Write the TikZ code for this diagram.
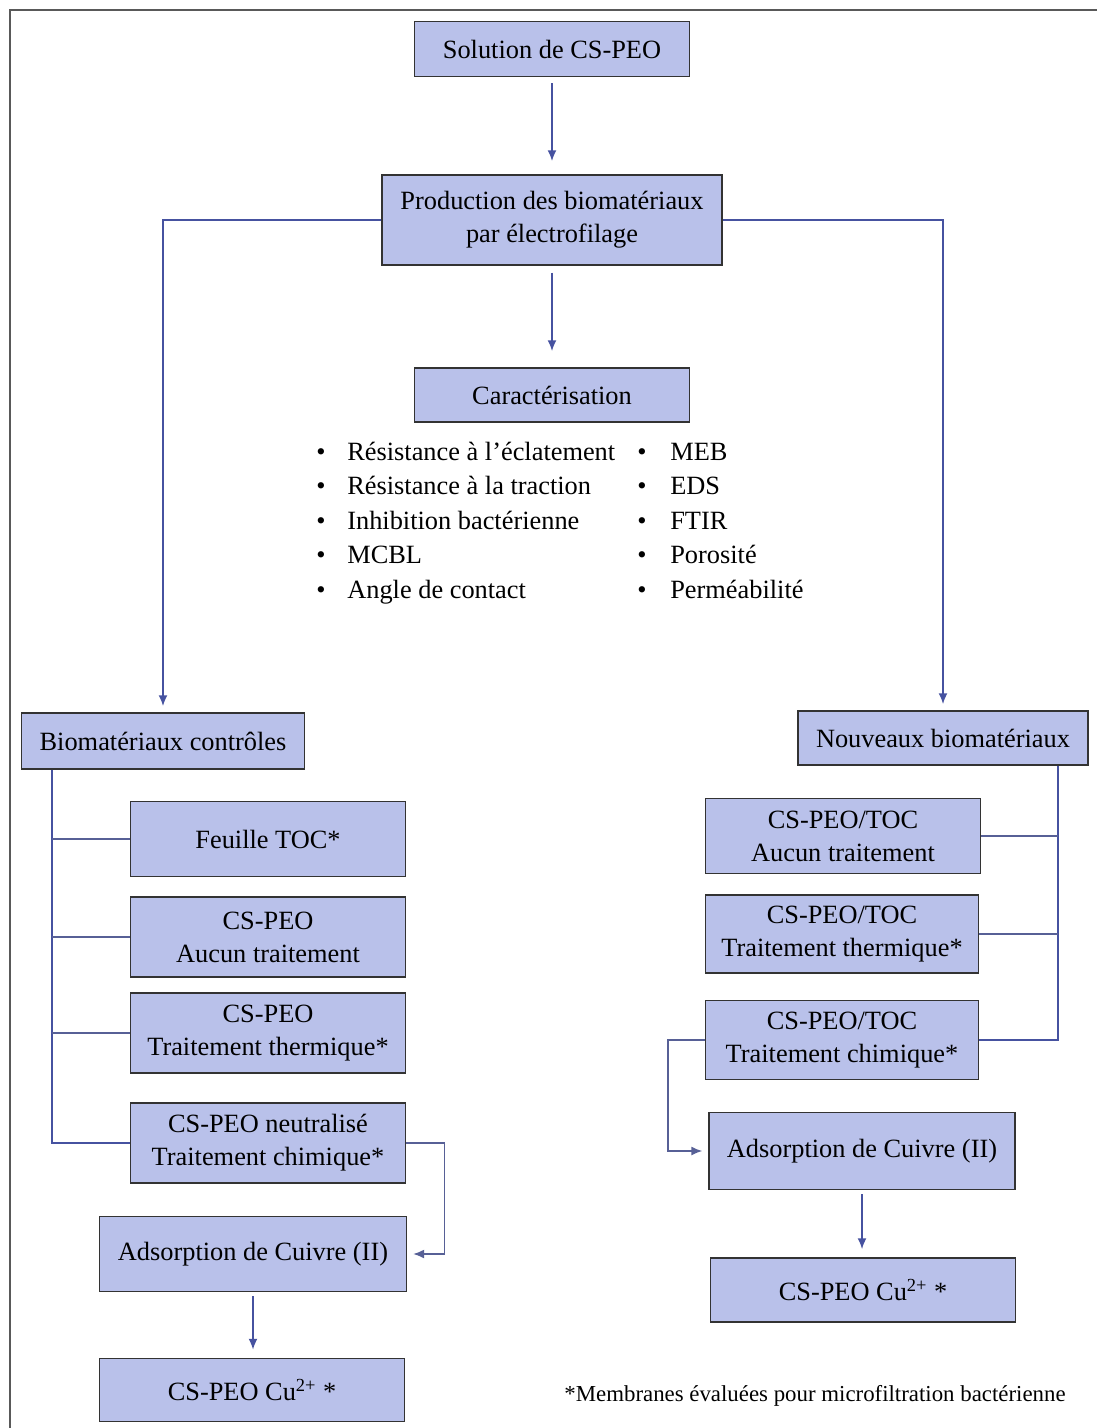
\documentclass[tikz,border=0pt]{standalone}
\usepackage{fontspec}
\setmainfont{Liberation Serif}
\usetikzlibrary{arrows.meta}
\definecolor{bleuboite}{RGB}{185,193,234}
\definecolor{bleutrait}{RGB}{70,82,160}

\begin{document}
\begin{tikzpicture}[x=0.2mm, y=-0.2mm, >={Latex[length=2.2mm,width=1.8mm]},
    boite/.style = {draw=black!80, fill=bleuboite, line width=0.8pt, align=center, inner sep=1pt, font=\fontsize{15}{18.7}\selectfont},
    trait/.style = {draw=bleutrait, line width=1.1pt},
    branche/.style = {draw=bleutrait!70!gray, line width=0.8pt},
    item/.style = {anchor=base west, inner sep=0pt, font=\fontsize{15}{18}\selectfont}]
    \useasboundingbox (0,0) rectangle (1097,1428);
    \draw[black!65, line width=1.2pt] (10,1428) -- (10,10) -- (1097,10);

    % Boites du schema
    \node[boite, minimum width=55mm, minimum height=11mm] (0) at (552, 49) {Solution de CS-PEO};
    \node[boite, minimum width=68mm, minimum height=18mm] (1) at (552, 220) {Production des biomatériaux\\par électrofilage};
    \node[boite, minimum width=55mm, minimum height=10.8mm] (2) at (552, 395) {Caractérisation};
    \node[boite, minimum width=56.6mm, minimum height=11.2mm] (3) at (163, 741) {Biomatériaux contrôles};
    \node[boite, minimum width=58mm, minimum height=10.8mm] (4) at (943, 738) {Nouveaux biomatériaux};

    \node[boite, minimum width=55mm, minimum height=15mm] (5) at (268, 839) {Feuille TOC*};
    \node[boite, minimum width=55mm, minimum height=16mm] (6) at (268, 937) {CS-PEO\\Aucun traitement};
    \node[boite, minimum width=55mm, minimum height=16mm] (7) at (268, 1033) {CS-PEO\\Traitement thermique*};
    \node[boite, minimum width=55mm, minimum height=16mm] (8) at (268, 1143) {CS-PEO neutralisé\\Traitement chimique*};
    \node[boite, minimum width=61.4mm, minimum height=15mm] (9) at (253, 1254) {Adsorption de Cuivre (II)};
    \node[boite, minimum width=61mm, minimum height=12.6mm] (10) at (252, 1390) {CS-PEO Cu\textsuperscript{2+} *};

    \node[boite, minimum width=55mm, minimum height=15mm] (11) at (843, 836) {CS-PEO/TOC\\Aucun traitement};
    \node[boite, minimum width=54.6mm, minimum height=15.6mm] (12) at (842, 934) {CS-PEO/TOC\\Traitement thermique*};
    \node[boite, minimum width=54.6mm, minimum height=15.8mm] (13) at (842, 1040) {CS-PEO/TOC\\Traitement chimique*};
    \node[boite, minimum width=61.2mm, minimum height=15.4mm] (14) at (862, 1151) {Adsorption de Cuivre (II)};
    \node[boite, minimum width=61mm, minimum height=12.8mm] (15) at (863, 1290) {CS-PEO Cu\textsuperscript{2+} *};

    \node[font=\fontsize{13}{15}\selectfont] (16) at (815, 1396) {*Membranes évaluées pour microfiltration bactérienne};

    % Liste de caracterisation
    \node[item] (17) at (316, 460) {\makebox[6.2mm][l]{\textbullet}Résistance à l'éclatement};
    \node[item] (18) at (316, 494.5) {\makebox[6.2mm][l]{\textbullet}Résistance à la traction};
    \node[item] (19) at (316, 529) {\makebox[6.2mm][l]{\textbullet}Inhibition bactérienne};
    \node[item] (20) at (316, 563.5) {\makebox[6.2mm][l]{\textbullet}MCBL};
    \node[item] (21) at (316, 598) {\makebox[6.2mm][l]{\textbullet}Angle de contact};
    \node[item] (22) at (637, 460) {\makebox[6.6mm][l]{\textbullet}MEB};
    \node[item] (23) at (637, 494.5) {\makebox[6.6mm][l]{\textbullet}EDS};
    \node[item] (24) at (637, 529) {\makebox[6.6mm][l]{\textbullet}FTIR};
    \node[item] (25) at (637, 563.5) {\makebox[6.6mm][l]{\textbullet}Porosité};
    \node[item] (26) at (637, 598) {\makebox[6.6mm][l]{\textbullet}Perméabilité};

    \coordinate (t) at (52, 0);
    \coordinate (u) at (1058, 0);

    % Fleches principales
    \draw[->, trait, shorten <=1.2mm, shorten >=2.6mm] (0) -- (1);
    \draw[->, trait, shorten <=1.4mm, shorten >=3.2mm] (1) -- (2);
    \draw[->, trait, shorten >=1.2mm] (1.west) -| (3);
    \draw[->, trait, shorten >=1.2mm] (1.east) -| (4);

    % Biomateriaux controles
    \draw[trait] (3.south -| t) -- (t |- 8) -- (8);
    \draw[branche] (t |- 5) -- (5);
    \draw[branche] (t |- 6) -- (6);
    \draw[branche] (t |- 7) -- (7);
    \draw[->, branche, shorten >=1.2mm] (8.east) -- ++(38,0) |- (9);
    \draw[->, trait, shorten <=0.8mm, shorten >=1.6mm] (9.south) -- (9.south |- 10.north);

    % Nouveaux biomateriaux
    \draw[trait] (4.south -| u) -- (u |- 13) -- (13);
    \draw[branche] (u |- 11) -- (11);
    \draw[branche] (u |- 12) -- (12);
    \draw[->, branche, shorten >=1.2mm] (13.west) -- ++(-37,0) |- (14);
    \draw[->, trait, shorten <=0.8mm, shorten >=1.6mm] (14.south) -- (14.south |- 15.north);

\end{tikzpicture}
\end{document}
